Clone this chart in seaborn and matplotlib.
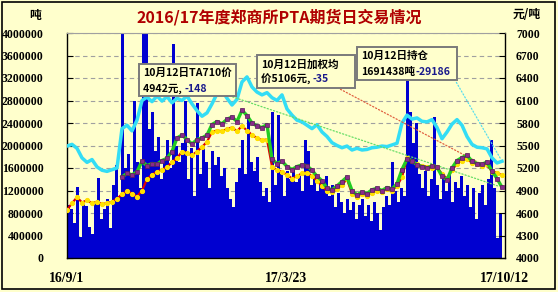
import numpy as np
import pandas as pd
import matplotlib
matplotlib.use("Agg")
import matplotlib.pyplot as plt
from matplotlib.patches import Rectangle
from matplotlib.text import Annotation
import seaborn as sns

# ---------------- data ----------------
title = "2016/17年度郑商所PTA期货日交易情况"
date_labels = ["16/9/1", "17/3/23", "17/10/12"]
left_ticks = [0, 400000, 800000, 1200000, 1600000, 2000000, 2400000,
              2800000, 3200000, 3600000, 4000000]
right_ticks = [4000, 4300, 4600, 4900, 5200, 5500, 5800, 6100, 6400, 6700, 7000]

# daily volume, thousand tons
volume_k = [
    950, 880, 620, 1260, 380, 1000, 930, 560, 420, 980,
    1420, 700, 880, 1050, 530, 1300, 1650, 1100, 4200, 1600,
    1850, 1500, 2800, 1700, 1250, 4200, 4200, 2300, 2600, 1900,
    2150, 1400, 1750, 2100, 1600, 3800, 2000, 1700, 2050, 2800,
    1400, 1950, 1100, 2750, 1500, 2000, 1700, 1250, 1900, 1650,
    1800, 1450, 1600, 1250, 1050, 900, 1350, 1600, 2100, 1500,
    2500, 1700, 1550, 1800, 1350, 1100, 1250, 1000, 2600, 1300,
    2550, 1500, 1100, 1550, 1400, 1600, 1350, 1450, 1200, 2100,
    1900, 1300, 1500, 1200, 1400, 1250, 1450, 1100, 1300, 900,
    1150, 1000, 800, 1050, 850, 1000, 700, 950, 1050, 750,
    950, 650, 1000, 800, 500, 900, 1100, 950, 1700, 1200,
    1000, 1250, 1100, 3200, 2600, 2050, 2400, 1500, 1250, 1550,
    1100, 1400, 2500, 1300, 1050, 1400, 1200, 1500, 1000, 1350,
    1250, 1450, 1100, 1300, 900, 1250, 700, 1150, 1300, 950,
    1400, 2100, 1250, 350, 800,
]

# open interest, million tons
open_interest_m = [
    1.99, 2.02, 1.95, 1.78, 1.70, 1.75, 1.62, 1.56, 1.54, 1.57,
    1.60, 2.30, 2.36, 2.26, 2.45, 2.80, 2.86, 2.78, 2.88, 2.79,
    2.87, 2.76, 2.84, 2.80, 2.88, 2.74, 2.62, 2.52, 2.58, 2.74,
    2.92, 2.98, 2.84, 2.72, 2.82, 3.13, 3.22, 3.04, 2.95, 2.90,
    2.94, 2.85, 2.80, 2.90, 2.65, 2.54, 2.45, 2.42, 2.36, 2.30,
    2.37, 2.24, 2.16, 2.05, 2.00, 1.96, 1.99, 1.92, 1.95, 1.92,
    1.93, 1.96, 1.97, 1.99, 1.98, 2.01, 2.04, 2.40, 2.54, 2.47,
    2.49, 2.43, 2.42, 2.46, 2.32, 2.12, 2.24, 2.38, 2.46, 2.36,
    2.16, 2.02, 1.97, 1.96, 1.94, 1.78, 1.69, 1.72,
]

# weighted average price, yuan/ton
weighted_price = [
    4640, 4730, 4810, 4740, 4770, 4730, 4750, 4720, 4730, 4750,
    4790, 4850, 4890, 4860, 4820, 4900, 5050, 5110, 5150, 5180,
    5210, 5280, 5330, 5420, 5400, 5370, 5420, 5480, 5550, 5680,
    5700, 5690, 5720, 5740, 5690, 5760, 5700, 5640, 5600, 5570,
    5580, 5220, 5170, 5150, 5110, 5060, 5090, 5130, 5140, 5090,
    5030, 4960, 4890, 4880, 4920, 4980, 5050, 4860, 4820, 4850,
    4830, 4870, 4900, 4880, 4920, 4900, 4960, 5080, 5330, 5300,
    5250, 5230, 5220, 5200, 5210, 5120, 5060, 5170, 5260, 5300,
    5320, 5270, 5250, 5230, 5250, 5150, 5130, 5106,
]

# TA710 price, yuan/ton (contract not yet trading at the start)
ta710_price = [np.nan] * 11 + [
    5080, 5130, 5110, 5150, 5290, 5230, 5260, 5250, 5300, 5330,
    5420, 5600, 5640, 5580, 5520, 5580, 5600, 5640, 5780, 5820,
    5790, 5850, 5880, 5820, 5970, 5900, 5800, 5760, 5740, 5780,
    5320, 5260, 5290, 5220, 5180, 5220, 5240, 5230, 5170, 5090,
    5030, 4930, 4910, 4960, 5020, 5080, 4900, 4840, 4880, 4860,
    4910, 4930, 4900, 4940, 4920, 4990, 5180, 5320, 5300, 5240,
    5220, 5200, 5230, 5210, 5090, 5040, 5200, 5300, 5340, 5370,
    5290, 5260, 5250, 5280, 5160, 5060, 4942,
]

note_ta710 = ("10月12日TA710价", "4942元, ", "-148")
note_avg = ("10月12日加权均", "价5106元, ", "-35")
note_oi = ("10月12日持仓", "1691438吨", "-29186")

# ---------------- style ----------------
BG = "#FFFFCC"
CJK = ["Noto Sans CJK SC", "DejaVu Sans"]
NUMF = ["Liberation Serif", "DejaVu Serif"]
W, H = 558, 292
plt.rcParams["font.family"] = NUMF

def fp(x, y):
    return (x / W, 1 - y / H)

fig = plt.figure(figsize=(W / 100, H / 100), dpi=100, facecolor=BG)
ax = fig.add_axes([67 / W, 1 - 258 / H, (505 - 67) / W, (258 - 33) / H])
ax.set_facecolor(BG)

n = len(volume_k)
bars = pd.DataFrame({"pos": np.arange(n), "volume": np.array(volume_k) * 1000})
line_pos = np.linspace(-0.5, n - 0.5, len(open_interest_m))
lines = pd.DataFrame({
    "pos": line_pos,
    "oi": np.array(open_interest_m) * 1e6,
    "avg": weighted_price,
    "ta": ta710_price,
})

sns.barplot(data=bars, x="pos", y="volume", native_scale=True, color="#0000D0",
            saturation=1, width=0.8, linewidth=0, errorbar=None, ax=ax, zorder=2)
sns.lineplot(data=lines, x="pos", y="oi", color="#33DDF5", lw=2.5, ax=ax, zorder=3)

ax.set_xlim(-0.5, n + 0.5)
ax.set_ylim(0, 4000000)
ax.set_yticks(left_ticks)
ax.set_yticklabels([str(v) for v in left_ticks], fontfamily=NUMF,
                   fontweight="bold", fontsize=8.5)
ax.set_xticks([-0.5, (286 - 67) / 3 - 0.5, n + 0.5])
ax.set_xticklabels(date_labels, fontfamily=NUMF, fontweight="bold", fontsize=10)
ax.set_xlabel("")
ax.set_ylabel("")
ax.yaxis.grid(True, color="#A0A0A0", linestyle=(0, (4, 3)), lw=0.8)
ax.set_axisbelow(True)
ax.tick_params(axis="y", direction="in", length=4, width=0.8, pad=17)
ax.tick_params(axis="x", length=0, pad=10)
ax.spines["top"].set_color("#A0A0A0")
for s in ("left", "bottom", "right"):
    ax.spines[s].set_color("black")
    ax.spines[s].set_linewidth(1.0)

ax2 = ax.twinx()
ax2.patch.set_visible(False)
sns.lineplot(data=lines, x="pos", y="avg", color="#E00000", lw=1.6, marker="o",
             markersize=3.0, markerfacecolor="#FFE000", markeredgecolor="#FFE000",
             ax=ax2, zorder=4)
sns.lineplot(data=lines, x="pos", y="ta", color="#22CC22", lw=2.4, marker="s",
             markersize=3.2, markerfacecolor="#8B2A8B", markeredgecolor="#5A1A5A",
             markeredgewidth=0.5, ax=ax2, zorder=5)
ax2.set_ylim(4000, 7000)
ax2.set_yticks(right_ticks)
ax2.set_yticklabels([str(v) for v in right_ticks], fontfamily=NUMF,
                    fontweight="bold", fontsize=8.5)
ax2.set_ylabel("")
ax2.tick_params(axis="y", direction="in", length=4, width=0.8, pad=8)
for s in ax2.spines.values():
    s.set_visible(False)

# connectors from note boxes to the series' last values
ax2.annotate("", xy=(line_pos[-1], ta710_price[-1]), xycoords="data",
             xytext=fp(230, 96), textcoords="figure fraction",
             arrowprops=dict(arrowstyle="-", color="#66DD66", lw=0.9, linestyle=":"))
ax2.annotate("", xy=(line_pos[-1], weighted_price[-1]), xycoords="data",
             xytext=fp(338, 88), textcoords="figure fraction",
             arrowprops=dict(arrowstyle="-", color="#E06040", lw=0.9, linestyle=":"))
ax.annotate("", xy=(line_pos[-1], open_interest_m[-1] * 1e6), xycoords="data",
            xytext=fp(455, 80), textcoords="figure fraction",
            arrowprops=dict(arrowstyle="-", color="#55DDEE", lw=0.9, linestyle=":"))

# note boxes
def note_box(x0, y0, x1, y1, note, ty1, ty2):
    fx, fy = fp(x0, y1)
    rect = Rectangle((fx, fy), (x1 - x0) / W, (y1 - y0) / H, transform=fig.transFigure,
                     facecolor=BG, edgecolor="#7A7A7A", lw=1.4, zorder=10)
    fig.add_artist(rect)
    fig.text(*fp(x0 + 4, ty1), note[0], family=CJK, fontsize=7.6, fontweight="bold",
             va="center", ha="left", zorder=11)
    t = fig.text(*fp(x0 + 4, ty2), note[1], family=CJK, fontsize=7.6, fontweight="bold",
                 va="center", ha="left", zorder=11)
    a = Annotation(note[2], xy=(1, 0.5), xycoords=t, va="center", ha="left",
                   family=CJK, fontsize=7.6, fontweight="bold", color="#1A1A8C",
                   annotation_clip=False)
    a.set_zorder(12)
    fig.add_artist(a)

note_box(139, 64, 236, 96, note_ta710, 73, 89)
note_box(257, 55, 355, 88, note_avg, 65, 79)
note_box(357, 47, 457, 80, note_oi, 56, 72)

# titles and units
fig.text(*fp(279, 17), title, family=CJK, fontsize=11.5, fontweight="bold",
         color="#B00000", ha="center", va="center")
fig.text(*fp(35, 15), "吨", family=CJK, fontsize=8.5, fontweight="bold",
         ha="center", va="center")
fig.text(*fp(527, 15), "元/吨", family=CJK, fontsize=8.5, fontweight="bold",
         ha="center", va="center")

# outer frame
fig.add_artist(Rectangle((1.5 / W, 1 - 289 / H), 553 / W, 287.5 / H,
                         transform=fig.transFigure, fill=False, edgecolor="black", lw=1.2))

fig.savefig("out.png", dpi=100, facecolor=BG)
